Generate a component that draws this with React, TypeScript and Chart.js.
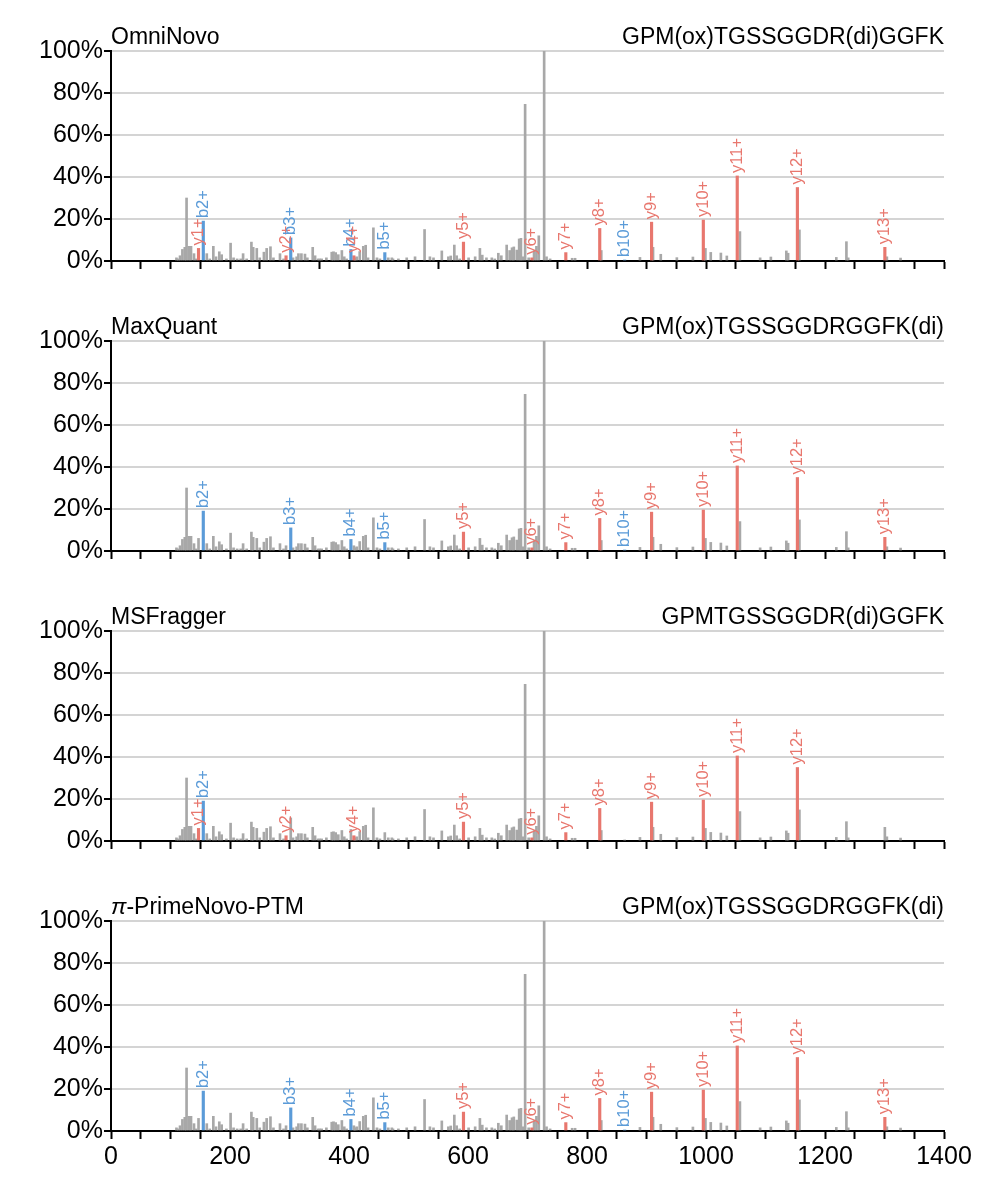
import React, { useEffect, useRef } from 'react';
import { Chart, registerables } from 'chart.js';
Chart.register(...registerables);

// Unannotated (gray) peaks: m/z and relative intensity (%)
const grayMz = [110, 113, 116, 120, 124, 127, 131, 134.5, 139.5, 143, 161, 166, 172, 176.5, 182, 186, 194, 201, 206, 212, 218, 222, 228, 236, 239, 245, 250, 257, 261.6, 268, 273, 284, 290, 306, 312, 315, 320, 326, 330, 339, 343, 348, 351, 354, 362, 371, 374, 377.6, 382, 388, 392, 396, 410, 413, 418, 424, 428, 432, 441, 447, 452, 466, 472, 474, 483, 497, 511, 527, 536, 542, 556, 567, 571, 577, 581, 586, 601, 612, 620, 624, 631, 640, 645, 651, 656, 665, 670, 674, 677, 682, 686, 689, 692, 696, 702, 711, 715, 719, 728, 732, 738, 775, 780, 824, 889, 911, 924, 951, 978, 999, 1008, 1025, 1035, 1057, 1091, 1109, 1135, 1138, 1157, 1219, 1236, 1239, 1304, 1327];
const grayInt = [1.5, 1, 2.5, 5.5, 6.5, 30, 7, 7, 3.5, 1, 3.5, 1, 7, 2, 4.4, 3, 1, 8.5, 1.5, 1, 1, 3.5, 1, 9, 6.5, 6, 1.5, 4.2, 6, 6.8, 1.5, 3.5, 1, 1.5, 2, 3.5, 3.5, 3.3, 1.5, 6.5, 2.5, 1, 1, 1, 1.5, 4.2, 4.4, 4, 3, 5, 2, 1, 1.5, 2, 4.5, 7, 7.5, 1.5, 15.8, 1.5, 1, 1.5, 1.5, 1, 1, 1.5, 2, 15, 2, 1.5, 4.8, 2, 2.4, 7.6, 2.5, 1, 1.5, 2, 6, 2.8, 1.5, 1.5, 1, 3.7, 2.5, 7.6, 5, 6.3, 6.7, 5.2, 10.5, 10.8, 2, 74.6, 1.5, 5, 7, 12, 100, 2, 1, 1.3, 1.3, 5, 1.7, 6.5, 3.2, 1.6, 1.9, 6, 4.1, 3.8, 2.4, 14, 1.5, 1.9, 4.8, 3.7, 14.8, 1.7, 9.2, 1.5, 2, 1.4];

// Fragment ions
const ionNames = ['y1', 'b2', 'y2', 'b3', 'b4', 'y4', 'b5', 'y5', 'y6', 'y7', 'y8', 'b10', 'y9', 'y10', 'y11', 'y12', 'y13'];
const ionMz = [147.1, 155.1, 294.2, 302.1, 403.2, 408.2, 460.2, 592.4, 707.4, 764.4, 821.4, 863.3, 908.5, 995.5, 1052.5, 1153.6, 1300.6];
const ionInt = [6, 19, 2.5, 11, 5.5, 2.5, 4, 9, 1.5, 4, 15.5, 0.5, 18.5, 19.5, 40.5, 35, 6.5];

const panelNames = ['OmniNovo', 'MaxQuant', 'MSFragger', 'π-PrimeNovo-PTM'];
const panelSeqs = ['GPM(ox)TGSSGGDR(di)GGFK', 'GPM(ox)TGSSGGDRGGFK(di)', 'GPMTGSSGGDR(di)GGFK', 'GPM(ox)TGSSGGDRGGFK(di)'];
const panelIons = [
  ['y1', 'b2', 'y2', 'b3', 'b4', 'y4', 'b5', 'y5', 'y6', 'y7', 'y8', 'b10', 'y9', 'y10', 'y11', 'y12', 'y13'],
  ['b2', 'b3', 'b4', 'b5', 'y5', 'y6', 'y7', 'y8', 'b10', 'y9', 'y10', 'y11', 'y12', 'y13'],
  ['y1', 'b2', 'y2', 'y4', 'y5', 'y6', 'y7', 'y8', 'y9', 'y10', 'y11', 'y12'],
  ['b2', 'b3', 'b4', 'b5', 'y5', 'y6', 'y7', 'y8', 'b10', 'y9', 'y10', 'y11', 'y12', 'y13'],
];

const xMin = 0;
const xMax = 1400;
const xStep = 50;
const xLabelStep = 200;
const yStep = 20;

const RED = '#e8776e';
const BLUE = '#5b9bd8';
const GRAY = '#a8a8a8';
const FONT = "'Liberation Sans', Arial, sans-serif";

const W = 998;
const PANEL_H = 290;
const PLOT_TOP = 51;
const PLOT_LEFT = 111;
const PLOT_RIGHT = 944;
const LAST_H = 331;

function Panel({ idx }: { idx: number }) {
  const ref = useRef<HTMLCanvasElement | null>(null);
  const isLast = idx === panelNames.length - 1;
  const H = isLast ? LAST_H : PANEL_H;

  useEffect(() => {
    const canvas = ref.current;
    if (!canvas) return;
    const annotated = panelIons[idx];
    const grayPts: { x: number; y: number }[] = grayMz.map((m, i) => ({ x: m, y: grayInt[i] }));
    const redPts: { x: number; y: number; name: string }[] = [];
    const bluePts: { x: number; y: number; name: string }[] = [];
    ionNames.forEach((n, i) => {
      const p = { x: ionMz[i], y: ionInt[i], name: n };
      if (annotated.includes(n)) {
        (n.startsWith('b') ? bluePts : redPts).push(p);
      } else {
        grayPts.push({ x: p.x, y: p.y });
      }
    });

    const labelPlugin = {
      id: 'ionLabels',
      afterDatasetsDraw(chart: any) {
        const { ctx, scales } = chart;
        const xs = scales.x;
        const ys = scales.y;
        ctx.save();
        ctx.font = `16.5px ${FONT}`;
        ctx.textAlign = 'left';
        ctx.textBaseline = 'middle';
        annotated.forEach((n) => {
          const i = ionNames.indexOf(n);
          const px = xs.getPixelForValue(ionMz[i]);
          const py = ys.getPixelForValue(ionInt[i]) - 3;
          ctx.save();
          ctx.translate(px, py);
          ctx.rotate(-Math.PI / 2);
          ctx.fillStyle = n.startsWith('b') ? BLUE : RED;
          ctx.fillText(n + '+', 0, 0);
          ctx.restore();
        });
        ctx.restore();
      },
    };

    const titlePlugin = {
      id: 'panelTitle',
      afterDraw(chart: any) {
        const { ctx, chartArea } = chart;
        ctx.save();
        ctx.fillStyle = '#000';
        ctx.textBaseline = 'alphabetic';
        const baseY = chartArea.top - 7;
        const name = panelNames[idx];
        ctx.textAlign = 'left';
        if (name.startsWith('π')) {
          ctx.font = `italic 23px ${FONT}`;
          ctx.fillText('π', chartArea.left, baseY);
          const w = ctx.measureText('π').width;
          ctx.font = `23px ${FONT}`;
          ctx.fillText(name.slice(1), chartArea.left + w, baseY);
        } else {
          ctx.font = `23px ${FONT}`;
          ctx.fillText(name, chartArea.left, baseY);
        }
        ctx.textAlign = 'right';
        ctx.font = `23px ${FONT}`;
        ctx.fillText(panelSeqs[idx], chartArea.right, baseY);
        ctx.restore();
      },
    };

    const chart = new Chart(canvas, {
      type: 'bar',
      data: {
        datasets: [
          { label: 'unmatched', data: grayPts, backgroundColor: GRAY, barThickness: 2, grouped: false, order: 3 } as any,
          { label: 'y', data: redPts, backgroundColor: RED, barThickness: 2.5, grouped: false, order: 2 } as any,
          { label: 'b', data: bluePts, backgroundColor: BLUE, barThickness: 2.5, grouped: false, order: 1 } as any,
        ],
      },
      options: {
        responsive: false,
        animation: false,
        devicePixelRatio: 1,
        layout: { padding: { top: PLOT_TOP, right: W - PLOT_RIGHT, left: 0, bottom: 0 } },
        plugins: { legend: { display: false }, tooltip: { enabled: false }, title: { display: false } },
        scales: {
          x: {
            type: 'linear',
            min: xMin,
            max: xMax,
            offset: false,
            afterFit: (s: any) => { s.height = H - 261; },
            grid: { offset: false, drawOnChartArea: false, drawTicks: true, tickLength: 8, tickColor: '#000', tickWidth: 2 },
            border: { display: true, color: '#000', width: 2 },
            ticks: {
              display: isLast,
              stepSize: xStep,
              autoSkip: false,
              maxRotation: 0,
              padding: 3,
              color: '#000',
              font: { family: FONT, size: 25 },
              callback: (v: any) => (Number(v) % xLabelStep === 0 ? String(v) : ''),
            },
          },
          y: {
            min: 0,
            max: 100,
            afterFit: (s: any) => { s.width = PLOT_LEFT; },
            grid: {
              offset: false,
              color: (c: any) => (c.tick && c.tick.value === 0 ? 'rgba(0,0,0,0)' : '#d4d4d4'),
              lineWidth: 2,
              drawTicks: true,
              tickLength: 7,
              tickColor: '#000',
              tickWidth: 2,
            },
            border: { display: true, color: '#000', width: 2 },
            ticks: {
              stepSize: yStep,
              padding: 1,
              color: '#000',
              font: { family: FONT, size: 25 },
              callback: (v: any) => `${v}%`,
            },
          },
        },
      } as any,
      plugins: [labelPlugin, titlePlugin],
    });
    return () => chart.destroy();
  }, [idx, H]);

  return (
    <canvas
      ref={ref}
      width={W}
      height={H}
      style={{ position: 'absolute', left: 0, top: idx * PANEL_H, width: W, height: H, display: 'block' }}
    />
  );
}

export default function App() {
  return (
    <div style={{ position: 'absolute', left: 0, top: 0, width: W, height: 1201, background: '#fff' }}>
      {panelNames.map((_, i) => (
        <Panel key={i} idx={i} />
      ))}
    </div>
  );
}
